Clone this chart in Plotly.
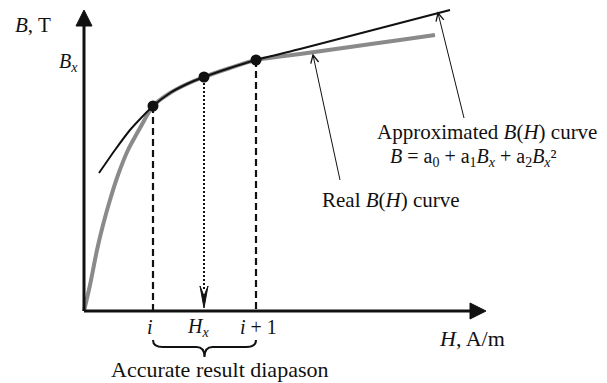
import math
import plotly.graph_objects as go

# Field strength H and induction B of the measured (real) magnetisation curve
real_H = [0, 6, 13, 19, 26, 34, 44, 56, 69, 86, 103, 120, 146, 172, 216, 266, 316, 351]
real_B = [0, 26, 61, 86, 111, 136, 161, 183, 205, 218, 227, 234, 243, 251, 257, 264, 271, 276]

# Approximating quadratic curve B = a0 + a1*Bx + a2*Bx^2
approx_H = [15, 31, 46, 58, 69, 86, 103, 120, 146, 172, 216, 266, 316, 366]
approx_B = [138, 161, 181, 194, 205, 218, 227, 234, 243, 251, 262, 275, 288, 301]

# Nodes: i, Hx, i + 1
node_H = [69, 120, 172]
node_B = [205, 234, 251]
node_labels = ["<i>i</i>", "<i>H<sub>x</sub></i>", "<i>i</i> + 1"]
node_label_shift = [-3, -6, 2]

# Axis extents
H_AXIS_END = 402
B_AXIS_END = 301
BX_LEVEL = 249

FONT = "Liberation Serif"
BLACK = "#111111"
GREY = "#8a8a8a"

fig = go.Figure()

fig.add_trace(go.Scatter(x=real_H, y=real_B, mode="lines",
                         line=dict(color=GREY, width=4, shape="spline", smoothing=0.6),
                         hoverinfo="skip"))
fig.add_trace(go.Scatter(x=approx_H, y=approx_B, mode="lines",
                         line=dict(color=BLACK, width=2, shape="spline", smoothing=0.6),
                         hoverinfo="skip"))


def head_path(tip, tail, length, half, closed):
    """Arrow head at `tip`, pointing away from `tail` (axes use equal unit scale)."""
    dx, dy = tip[0] - tail[0], tip[1] - tail[1]
    n = math.hypot(dx, dy)
    ux, uy = dx / n, dy / n
    bx, by = tip[0] - ux * length, tip[1] - uy * length
    lx, ly = bx - uy * half, by + ux * half
    rx, ry = bx + uy * half, by - ux * half
    path = f"M {lx:.2f},{ly:.2f} L {tip[0]},{tip[1]} L {rx:.2f},{ry:.2f}"
    return path + " Z" if closed else path


def arrow(tip, tail, width, length, half, closed):
    dx, dy = tip[0] - tail[0], tip[1] - tail[1]
    n = math.hypot(dx, dy)
    back = length * 0.8 if closed else 0
    end = (tip[0] - dx / n * back, tip[1] - dy / n * back)
    fig.add_shape(type="line", x0=tail[0], y0=tail[1], x1=end[0], y1=end[1],
                  line=dict(color=BLACK, width=width))
    fig.add_shape(type="path", path=head_path(tip, tail, length, half, closed),
                  fillcolor=BLACK if closed else "rgba(0,0,0,0)",
                  line=dict(color=BLACK, width=1 if closed else width + 0.3))


# Dashed drop lines from nodes i and i + 1
for k in (0, 2):
    fig.add_shape(type="line", x0=node_H[k], x1=node_H[k], y0=node_B[k], y1=0,
                  line=dict(color=BLACK, width=2.2, dash="7px,4px"), layer="below")

# Dotted projection from Hx down to the H axis, with a narrow barbed head
hx, bx = node_H[1], node_B[1]
fig.add_shape(type="line", x0=hx, x1=hx, y0=bx - 6, y1=20,
              line=dict(color=BLACK, width=2, dash="2px,2px"))
fig.add_shape(type="path",
              path=f"M {hx},3 L {hx - 4},25 L {hx},15 L {hx + 4},25 Z",
              fillcolor=BLACK, line=dict(color=BLACK, width=1))

fig.add_trace(go.Scatter(x=node_H, y=node_B, mode="markers",
                         marker=dict(color=BLACK, size=11), hoverinfo="skip"))

# Coordinate axes with filled arrow heads
arrow((0, B_AXIS_END), (0, 0), 3, 16, 8, True)
arrow((H_AXIS_END, 0), (0, 0), 3, 16, 8, True)

# Brace under the interval [i, i + 1]
x0, x1 = node_H[0], node_H[2]
xc = (x0 + x1) / 2
brace = (f"M {x0},-29 Q {x0},-36 {x0 + 10},-36 L {xc - 8},-36 Q {xc},-36 {xc},-46 "
         f"Q {xc},-36 {xc + 8},-36 L {x1 - 10},-36 Q {x1},-36 {x1},-29")
fig.add_shape(type="path", path=brace, line=dict(color=BLACK, width=2))


def label(x, y, text, size=21, anchor="center", xshift=0):
    fig.add_annotation(x=x, y=y, text=text, showarrow=False, xanchor=anchor,
                       yanchor="middle", xshift=xshift,
                       font=dict(family=FONT, size=size, color=BLACK))


label(-51, 286, "<i>B</i>, T")
label(-4, BX_LEVEL, "<i>B<sub>x</sub></i>", size=20, anchor="right")
for h, t, s in zip(node_H, node_labels, node_label_shift):
    label(h, -16, t, size=20, xshift=s)
label(423, -27, "<i>H</i>, A/m", size=22, anchor="right")
label(135, -58, "Accurate result diapason", size=22)
label(291, 179, "Approximated <i>B</i>(<i>H</i>) curve", anchor="left")
label(304, 154,
      "<i>B</i> = a<sub>0</sub> + a<sub>1</sub><i>B<sub>x</sub></i> + "
      "a<sub>2</sub><i>B<sub>x</sub></i>²",
      size=20, anchor="left")
label(236, 111, "Real <i>B</i>(<i>H</i>) curve", anchor="left")

# Pointers from the captions to the curves
arrow((354, 298), (380, 193), 1, 8, 4, False)
arrow((229, 256), (256, 131), 1, 8, 4, False)

fig.update_layout(
    width=607, height=383, margin=dict(l=0, r=0, t=0, b=0),
    paper_bgcolor="white", plot_bgcolor="white", showlegend=False,
    xaxis=dict(range=[-84, 523], visible=False, fixedrange=True),
    yaxis=dict(range=[-72, 311], visible=False, fixedrange=True),
)

fig.write_html("out.html", config=dict(displayModeBar=False, staticPlot=True))
